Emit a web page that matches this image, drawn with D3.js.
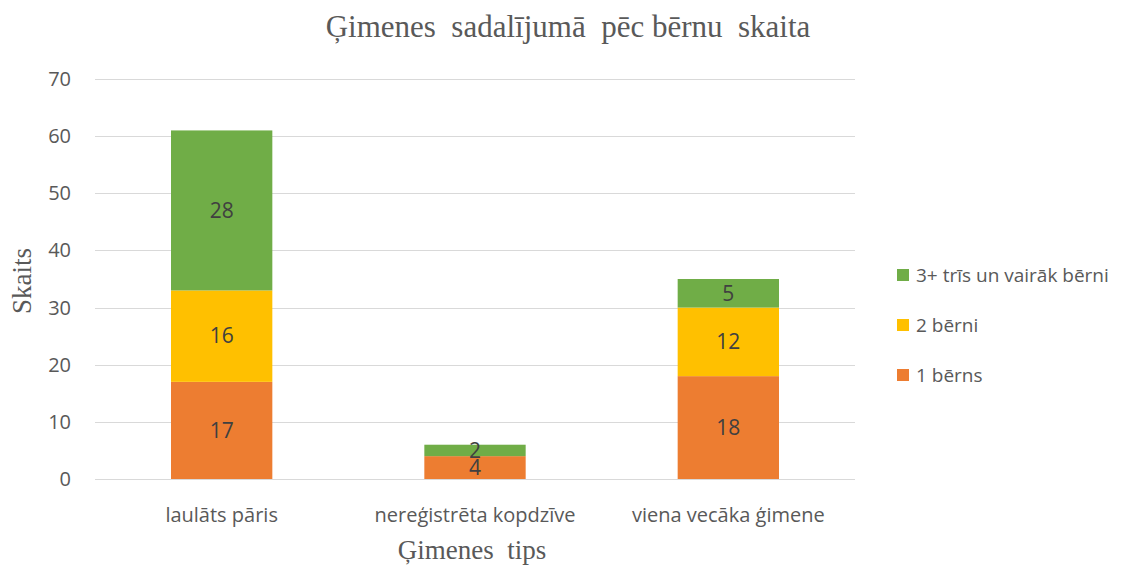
<!DOCTYPE html>
<html>
<head>
<meta charset="utf-8">
<script src="https://cdn.jsdelivr.net/npm/d3@7/dist/d3.min.js"></script>
<style>
    body { margin: 0; background: #fff; }
    svg text { white-space: pre; }
</style>
</head>
<body>
<svg id="chart" width="1146" height="568"></svg>
<script>
    'use strict';

    // data
    var categories = ['laulāts pāris', 'nereģistrēta kopdzīve', 'viena vecāka ģimene'];
    var seriesNames = ['1 bērns', '2 bērni', '3+ trīs un vairāk bērni'];
    var oneChild = [17, 4, 18];
    var twoChildren = [16, 0, 12];
    var threePlus = [28, 2, 5];
    var yTicks = [0, 10, 20, 30, 40, 50, 60, 70];
    var colors = ['#ed7d31', '#ffc000', '#70ad47'];

    var W = 1146, H = 568,
        M = { left: 95, right: 291, top: 79, bottom: 89 };

    var svg = d3.select('#chart');

    var rows = categories.map(function(c, i) {
        return { cat: c, s0: oneChild[i], s1: twoChildren[i], s2: threePlus[i] };
    });

    var stack = d3.stack().keys(['s0', 's1', 's2'])(rows);

    var x = d3.scaleBand()
        .domain(categories)
        .range([M.left, W - M.right])
        .paddingInner(0.6)
        .paddingOuter(0.3);

    var y = d3.scaleLinear()
        .domain([0, 70])
        .range([H - M.bottom, M.top]);

    /**************************************************************
        grid + y axis
     **************************************************************/
    svg.append('g')
        .selectAll('line')
        .data(yTicks).enter()
            .append('line')
            .attr('x1', M.left)
            .attr('x2', W - M.right)
            .attr('y1', function(d) { return Math.round(y(d)) + 0.5; })
            .attr('y2', function(d) { return Math.round(y(d)) + 0.5; })
            .style('stroke', '#d9d9d9')
            .style('stroke-width', 1);

    svg.append('g')
        .selectAll('text')
        .data(yTicks).enter()
            .append('text')
            .attr('x', 71)
            .attr('y', function(d) { return y(d); })
            .attr('dy', '0.35em')
            .attr('text-anchor', 'end')
            .style('font', '20px "Open Sans", sans-serif')
            .style('fill', '#595959')
            .text(function(d) { return d; });

    /**************************************************************
        stacked bars
     **************************************************************/
    var layers = svg.append('g')
        .selectAll('g')
        .data(stack).enter()
            .append('g')
            .style('fill', function(d, i) { return colors[i]; });

    layers.selectAll('rect')
        .data(function(d) { return d; }).enter()
            .append('rect')
            .attr('x', function(d) { return x(d.data.cat); })
            .attr('width', x.bandwidth())
            .attr('y', function(d) { return y(d[1]); })
            .attr('height', function(d) { return y(d[0]) - y(d[1]); });

    layers.selectAll('text')
        .data(function(d) { return d.filter(function(p) { return p[1] - p[0] > 0; }); }).enter()
            .append('text')
            .attr('x', function(d) { return x(d.data.cat) + x.bandwidth() / 2; })
            .attr('y', function(d) { return y((d[0] + d[1]) / 2); })
            .attr('dy', '0.35em')
            .attr('text-anchor', 'middle')
            .style('font', '21px "Open Sans", sans-serif')
            .style('fill', '#404040')
            .text(function(d) { return d[1] - d[0]; });

    /**************************************************************
        category labels
     **************************************************************/
    svg.append('g')
        .selectAll('text')
        .data(categories).enter()
            .append('text')
            .attr('x', function(d) { return x(d) + x.bandwidth() / 2; })
            .attr('y', 522)
            .attr('text-anchor', 'middle')
            .style('font', '20px "Open Sans", sans-serif')
            .style('fill', '#595959')
            .text(function(d) { return d; });

    /**************************************************************
        titles
     **************************************************************/
    svg.append('text')
        .attr('x', 568)
        .attr('y', 37)
        .attr('text-anchor', 'middle')
        .style('font', '31px "Liberation Serif", serif')
        .style('fill', '#595959')
        .text('Ģimenes  sadalījumā  pēc bērnu  skaita');

    svg.append('text')
        .attr('transform', 'translate(31,' + 281 + ') rotate(-90)')
        .attr('text-anchor', 'middle')
        .style('font', '27px "Liberation Serif", serif')
        .style('fill', '#595959')
        .text('Skaits');

    svg.append('text')
        .attr('x', 472)
        .attr('y', 559)
        .attr('text-anchor', 'middle')
        .style('font', '27px "Liberation Serif", serif')
        .style('fill', '#595959')
        .text('Ģimenes  tips');

    /**************************************************************
        legend
     **************************************************************/
    var legend = svg.append('g')
        .selectAll('g')
        .data([2, 1, 0]).enter()
            .append('g')
            .attr('transform', function(d, i) { return 'translate(897,' + (275 + i * 50) + ')'; });

    legend.append('rect')
        .attr('x', 0)
        .attr('y', -6)
        .attr('width', 12)
        .attr('height', 12)
        .style('fill', function(d) { return colors[d]; });

    legend.append('text')
        .attr('x', 19)
        .attr('y', 0)
        .attr('dy', '0.35em')
        .style('font', '19px "Open Sans", sans-serif')
        .style('fill', '#595959')
        .text(function(d) { return seriesNames[d]; });
</script>
</body>
</html>
